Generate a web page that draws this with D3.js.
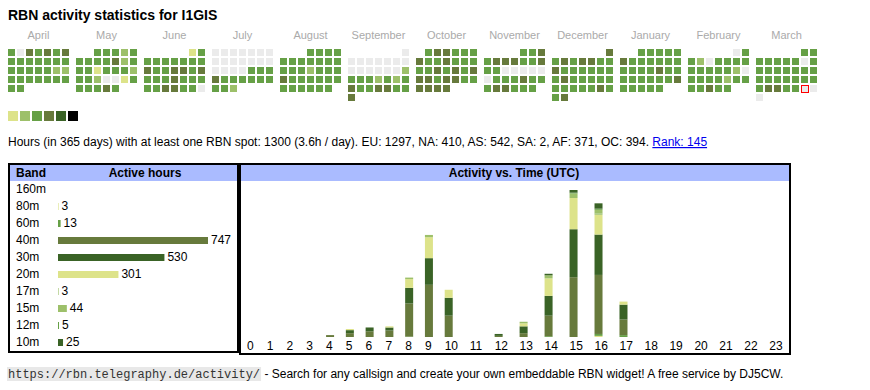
<!DOCTYPE html>
<html>
<head>
<meta charset="utf-8">
<script src="https://cdn.jsdelivr.net/npm/d3@7"></script>
<style>
  body { margin: 0; background: #fff; }
  svg text { font-family: "Liberation Sans", Arial, sans-serif; fill: #000; white-space: pre; }
</style>
</head>
<body>
<svg id="widget" width="870" height="390"></svg>
<script>
var callsign = "I1GIS";

// daily active hours, one array per month, April 2024 .. March 2025
var hours_apr = [3,0,7,3,7,3,7, 3,3,3,3,3,3,3, 3,3,3,3,3,2,2, 3,3,3,3,3,3,3, 3,3];
var hours_may = [3,3,3,2,3, 3,3,3,3,7,2,3, 3,3,1,3,3,3,2, 3,3,2,0,0,1,3, 3,3,3,7,3];
var hours_jun = [1,3, 3,3,3,3,3,3,3, 7,3,3,7,7,3,7, 3,3,3,7,3,3,3, 3,3,7,7,3,3,0];
var hours_jul = [0,0,0,0,0,0,0, 0,0,0,0,0,0,0, 0,0,0,0,3,3,3, 7,3,3,3,3,3,3, 3,3,2];
var hours_aug = [3,3,3,3, 3,3,3,3,3,3,3, 3,3,3,2,3,3,3, 7,3,3,3,3,3,3, 3,3,3,3,3,3];
var hours_sep = [0, 0,0,0,0,0,0,0, 0,0,0,0,0,0,2, 3,3,3,2,3,2,3, 7,3,3,7,7,3,3, 7];
var hours_oct = [3,7,7,3,3,3, 7,3,3,7,3,3,3, 3,3,7,3,7,3,7, 7,7,3,7,7,3,3, 7,7,7,7];
var hours_nov = [3,3,7, 3,7,7,7,3,3,7, 3,3,0,0,0,0,0, 0,3,3,3,7,3,3, 3,7,7,3,3,3];
var hours_dec = [7, 3,7,3,7,7,3,3, 7,3,3,3,3,3,3, 3,7,3,3,3,3,3, 3,3,3,3,3,7,3, 3,7];
var hours_jan = [3,3,3,3,3, 7,3,3,3,3,3,3, 3,3,3,3,7,3,3, 3,3,3,3,3,3,7, 3,3,3,3,3];
var hours_feb = [0,3, 3,2,0,3,3,3,3, 3,3,3,3,3,2,0, 3,3,3,3,2,3,3, 3,3,7,3,3];
var hours_mar = [3,3, 3,3,3,3,3,0,3, 3,3,3,3,3,3,3, 3,3,3,3,3,3,3, 3,7,7,3,3,0,0, 0];
var daily_hours = [hours_apr, hours_may, hours_jun, hours_jul, hours_aug, hours_sep,
                   hours_oct, hours_nov, hours_dec, hours_jan, hours_feb, hours_mar];
var month_names = ["April", "May", "June", "July", "August", "September",
                   "October", "November", "December", "January", "February", "March"];
var first_month = new Date(2024, 3, 1);
var today = new Date(2025, 2, 29);

// per band totals
var bands = ["160m", "80m", "60m", "40m", "30m", "20m", "17m", "15m", "12m", "10m"];
var band_hours = [0, 3, 13, 747, 530, 301, 3, 44, 5, 25];

// active hours per band and UTC hour
var hours_of_day = d3.range(24);
var hourly_160m = [0,0,0,0,0,0,0,0,0,0,0,0,0,0,0,0,0,0,0,0,0,0,0,0];
var hourly_80m  = [0,0,0,0,0,0,0,0,0,0,0,0,0,0,0,0,3,0,0,0,0,0,0,0];
var hourly_60m  = [0,0,0,0,0,0,0,0,1,0,0,0,0,0,2,0,5,5,0,0,0,0,0,0];
var hourly_40m  = [0,0,0,0,5,10,15,17,87,137,56,0,3,10,54,157,155,41,0,0,0,0,0,0];
var hourly_30m  = [0,0,0,0,0,8,10,8,41,70,47,0,5,18,52,126,106,39,0,0,0,0,0,0];
var hourly_20m  = [0,0,0,0,0,3,0,3,23,55,21,0,0,8,46,82,52,8,0,0,0,0,0,0];
var hourly_17m  = [0,0,0,0,0,0,0,0,0,0,0,0,0,0,0,0,3,0,0,0,0,0,0,0];
var hourly_15m  = [0,0,0,0,0,0,0,0,4,6,0,0,0,4,8,12,10,0,0,0,0,0,0,0];
var hourly_12m  = [0,0,0,0,0,0,0,0,0,0,0,0,0,0,0,2,3,0,0,0,0,0,0,0];
var hourly_10m  = [0,0,0,0,0,0,0,0,0,0,0,0,0,0,4,7,14,0,0,0,0,0,0,0];
var hourly = [hourly_160m, hourly_80m, hourly_60m, hourly_40m, hourly_30m,
              hourly_20m, hourly_17m, hourly_15m, hourly_12m, hourly_10m];

var summary = "Hours (in 365 days) with at least one RBN spot: 1300 (3.6h / day). EU: 1297, NA: 410, AS: 542, SA: 2, AF: 371, OC: 394. ";
var rank_text = "Rank: 145";
var footer_url = "https://rbn.telegraphy.de/activity/";
var footer_text = " - Search for any callsign and create your own embeddable RBN widget! A free service by DJ5CW.";

// colours
var level_colors = ["#ebebeb", "#dde38a", "#9dc06a", "#66a046", "#677a3c", "#3a6326", "#000000"];
var band_colors = ["#000000", "#dde38a", "#66a046", "#677a3c", "#3a6326",
                   "#dde38a", "#9dc06a", "#9dc06a", "#66a046", "#3a6326"];
var header_bg = "#aabbff";

var svg = d3.select("#widget");

svg.append("text")
    .attr("x", 8).attr("y", 20)
    .style("font-size", "14px").style("font-weight", "bold")
    .text("RBN activity statistics for " + callsign);

// ---- calendar heatmap ----
var cell = 7, step = 9, month_width = 68, cal_left = 8, cal_top = 49;
var color = d3.scaleThreshold()
    .domain([1, 2, 3, 6, 11, 20])
    .range(level_colors);
var month_x = d3.scaleBand()
    .domain(d3.range(12))
    .range([cal_left, cal_left + 12 * month_width]);

var months = svg.append("g").selectAll("g")
    .data(daily_hours)
    .join("g")
    .attr("transform", function (d, i) { return "translate(" + month_x(i) + "," + cal_top + ")"; });

months.append("text")
    .attr("x", (7 * step - 2) / 2)
    .attr("y", -10)
    .attr("text-anchor", "middle")
    .style("font-size", "11px")
    .style("fill", "#aaaaaa")
    .text(function (d, i) { return month_names[i]; });

function day_col(d) { return ((d.date.getDay() + 6) % 7) * step; }

months.each(function (values, m) {
  var start = d3.timeMonth.offset(first_month, m);
  var days = values.map(function (v, k) {
    return {date: d3.timeDay.offset(start, k), value: v};
  });
  var row = function (d) { return d3.timeMonday.count(start, d.date) * step; };
  var g = d3.select(this);
  g.selectAll("rect.day")
      .data(days)
      .join("rect")
      .attr("class", "day")
      .attr("x", day_col)
      .attr("y", row)
      .attr("width", cell)
      .attr("height", cell)
      .attr("fill", function (d) { return color(d.value); });
  // red frame round today's cell
  g.selectAll("rect.today")
      .data(days.filter(function (d) { return +d.date === +today; }))
      .join("rect")
      .attr("class", "today")
      .attr("x", function (d) { return day_col(d) + 0.5; })
      .attr("y", function (d) { return row(d) + 0.5; })
      .attr("width", cell)
      .attr("height", cell)
      .attr("fill", "none")
      .style("stroke", "rgb(255,0,0)")
      .style("stroke-width", "1px");
});

// legend
svg.append("g").selectAll("rect")
    .data(level_colors.slice(1))
    .join("rect")
    .attr("x", function (d, i) { return 8 + i * 12; })
    .attr("y", 111)
    .attr("width", 10).attr("height", 10)
    .attr("fill", function (d) { return d; });

// summary line
var info = svg.append("text")
    .attr("x", 8).attr("y", 146)
    .style("font-size", "12px");
info.append("tspan").text(summary);
info.append("tspan")
    .style("fill", "#0000ee")
    .style("text-decoration", "underline")
    .text(rank_text);

// ---- band table ----
var box_top = 163, header_h = 18;

function box(x0, x1, y1) {
  var g = svg.append("g");
  g.append("rect")
      .attr("x", x0 + 1).attr("y", box_top + 2)
      .attr("width", x1 - x0 - 2).attr("height", header_h - 2)
      .attr("fill", header_bg);
  g.append("rect")
      .attr("x", x0 + 1).attr("y", box_top + 1)
      .attr("width", x1 - x0 - 2).attr("height", y1 - box_top - 2)
      .attr("fill", "none")
      .attr("stroke", "#000").attr("stroke-width", 2);
  return g;
}

var band_box = box(8, 239, 353);
band_box.append("text")
    .attr("x", 16).attr("y", 177)
    .style("font-size", "12px").style("font-weight", "bold")
    .text("Band");
band_box.append("text")
    .attr("x", 145).attr("y", 177)
    .attr("text-anchor", "middle")
    .style("font-size", "12px").style("font-weight", "bold")
    .text("Active hours");

var row_y = d3.scaleBand()
    .domain(bands)
    .range([181, 181 + 17 * bands.length]);
var bar_w = d3.scaleLinear()
    .domain([0, d3.max(band_hours)])
    .range([0, 150]);

var rows = band_box.selectAll("g.row")
    .data(bands)
    .join("g")
    .attr("class", "row")
    .attr("transform", function (d) { return "translate(0," + row_y(d) + ")"; });

rows.append("text")
    .attr("x", 16).attr("y", 12)
    .style("font-size", "12px")
    .text(function (d) { return d; });

rows.append("rect")
    .attr("x", 58).attr("y", 5)
    .attr("width", function (d, i) { return bar_w(band_hours[i]); })
    .attr("height", 7)
    .attr("fill", function (d, i) { return band_colors[i]; });

rows.filter(function (d, i) { return band_hours[i] > 0; })
    .append("text")
    .attr("x", function (d) { return 58 + bar_w(band_hours[bands.indexOf(d)]) + 3; })
    .attr("y", 12)
    .style("font-size", "12px")
    .text(function (d) { return band_hours[bands.indexOf(d)]; });

// ---- activity vs time ----
var time_box = box(239, 791, 355);
time_box.append("text")
    .attr("x", 514).attr("y", 177)
    .attr("text-anchor", "middle")
    .style("font-size", "12px").style("font-weight", "bold")
    .text("Activity vs. Time (UTC)");

// columns sized like an auto-layout table: wider for two-digit hours
var col_widths = hours_of_day.map(function (h) { return String(h).length === 1 ? 19.77 : 24.97; });
var col_left = d3.cumsum([0].concat(col_widths)).slice(0, 24);
var x = d3.scaleOrdinal()
    .domain(hours_of_day)
    .range(col_left.map(function (v) { return 241 + 6 + v; }));

var table = hours_of_day.map(function (h) {
  var row = {hour: h};
  bands.forEach(function (b, i) { row[b] = hourly[i][h]; });
  return row;
});
var stacked = d3.stack().keys(bands)(table);
var max_total = d3.max(table, function (r) { return d3.sum(bands, function (b) { return r[b]; }); });

var base_y = 337;
var y = d3.scaleLinear()
    .domain([0, max_total])
    .range([base_y, base_y - 147]);

time_box.append("g").selectAll("g")
    .data(stacked)
    .join("g")
    .attr("fill", function (d, i) { return band_colors[i]; })
    .selectAll("rect")
    .data(function (d) { return d; })
    .join("rect")
    .attr("x", function (d) { return x(d.data.hour); })
    .attr("y", function (d) { return y(d[1]); })
    .attr("width", 8)
    .attr("height", function (d) { return y(d[0]) - y(d[1]); });

time_box.append("g").selectAll("text")
    .data(hours_of_day)
    .join("text")
    .attr("x", function (d) { return x(d); })
    .attr("y", 350)
    .style("font-size", "12px")
    .text(function (d) { return d; });

// ---- footer ----
var footer = svg.append("g");
var url_bg = footer.append("rect")
    .attr("y", 367).attr("height", 14)
    .attr("fill", "#e8e8e8");
var url = footer.append("text")
    .attr("x", 8).attr("y", 378)
    .style("font-family", "'Liberation Mono', monospace")
    .style("font-size", "12px")
    .style("fill", "#333")
    .text(footer_url);
var url_len = url.node().getComputedTextLength();
url_bg.attr("x", 7).attr("width", url_len + 2);
footer.append("text")
    .attr("x", 8 + url_len + 1).attr("y", 378)
    .style("font-size", "12px")
    .text(footer_text);
</script>
</body>
</html>
